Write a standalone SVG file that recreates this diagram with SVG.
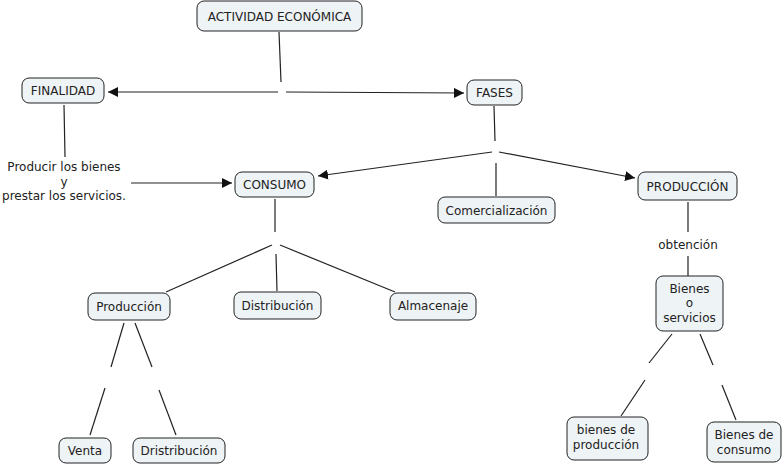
<svg xmlns="http://www.w3.org/2000/svg" width="784" height="466" viewBox="0 0 784 466">
<style>
.box{fill:#eef3f6;stroke:#222;stroke-width:1}
.t{font-family:"DejaVu Sans",Verdana,sans-serif;font-size:12px;fill:#222;text-anchor:middle}
.c{stroke:#222;stroke-width:1.2;fill:none}
</style>
<defs>
<marker id="ah" viewBox="0 0 10 10" refX="10" refY="5" markerWidth="10" markerHeight="10" markerUnits="userSpaceOnUse" orient="auto">
<path d="M0,0 L10,5 L0,10 z" fill="#111"/>
</marker>
</defs>
<rect width="784" height="466" fill="#fff"/>
<g id="connectors">
<line class="c" x1="279" y1="32" x2="281" y2="82"/>
<line class="c" x1="278" y1="92" x2="108" y2="92" marker-end="url(#ah)"/>
<line class="c" x1="286" y1="92" x2="464" y2="93" marker-end="url(#ah)"/>
<line class="c" x1="64" y1="105" x2="65" y2="157"/>
<line class="c" x1="131" y1="183" x2="232" y2="183" marker-end="url(#ah)"/>
<line class="c" x1="494" y1="106" x2="495" y2="141"/>
<line class="c" x1="492" y1="152" x2="318" y2="176" marker-end="url(#ah)"/>
<line class="c" x1="499" y1="152" x2="635" y2="178" marker-end="url(#ah)"/>
<line class="c" x1="496" y1="163" x2="496" y2="196"/>
<line class="c" x1="275" y1="199" x2="275" y2="232"/>
<line class="c" x1="272" y1="245" x2="166" y2="292"/>
<line class="c" x1="276" y1="254" x2="277" y2="291"/>
<line class="c" x1="280" y1="245" x2="395" y2="292"/>
<line class="c" x1="124" y1="323" x2="111" y2="367"/>
<line class="c" x1="105" y1="388" x2="90" y2="435"/>
<line class="c" x1="135" y1="323" x2="152" y2="367"/>
<line class="c" x1="159" y1="390" x2="176" y2="435"/>
<line class="c" x1="688" y1="202" x2="688" y2="232"/>
<line class="c" x1="688" y1="256" x2="688" y2="276"/>
<line class="c" x1="672" y1="334" x2="649" y2="363"/>
<line class="c" x1="645" y1="380" x2="621" y2="416"/>
<line class="c" x1="700" y1="334" x2="713" y2="365"/>
<line class="c" x1="722" y1="385" x2="736" y2="420"/>
</g>
<g id="actividad"><rect class="box" x="197" y="1" width="165" height="30" rx="7"/><text class="t" x="279.5" y="21">ACTIVIDAD ECONÓMICA</text></g>
<g id="finalidad"><rect class="box" x="22" y="78" width="82" height="25" rx="7"/><text class="t" x="63" y="95">FINALIDAD</text></g>
<g id="fases"><rect class="box" x="467" y="80" width="55" height="25" rx="7"/><text class="t" x="494.5" y="97">FASES</text></g>
<g id="producir"><text class="t" x="64" y="171">Producir los bienes</text><text class="t" x="64" y="186">y</text><text class="t" x="64" y="200">prestar los servicios.</text></g>
<g id="consumo"><rect class="box" x="235" y="172" width="79" height="25" rx="7"/><text class="t" x="274.5" y="189">CONSUMO</text></g>
<g id="comercializacion"><rect class="box" x="438" y="197" width="117" height="26" rx="7"/><text class="t" x="496.5" y="215">Comercialización</text></g>
<g id="produccion-main"><rect class="box" x="638" y="172" width="99" height="28" rx="7"/><text class="t" x="687.5" y="191">PRODUCCIÓN</text></g>
<g id="obtencion"><text class="t" x="688" y="249">obtención</text></g>
<g id="produccion"><rect class="box" x="88" y="293" width="82" height="27" rx="7"/><text class="t" x="129" y="311">Producción</text></g>
<g id="distribucion"><rect class="box" x="234" y="292" width="87" height="27" rx="7"/><text class="t" x="277.5" y="310">Distribución</text></g>
<g id="almacenaje"><rect class="box" x="390" y="293" width="86" height="27" rx="7"/><text class="t" x="433" y="310">Almacenaje</text></g>
<g id="bienes-servicios"><rect class="box" x="656" y="276" width="67" height="55" rx="7"/><text class="t" x="689.5" y="293">Bienes</text><text class="t" x="689.5" y="307">o</text><text class="t" x="689.5" y="322">servicios</text></g>
<g id="venta"><rect class="box" x="59" y="438" width="52" height="25" rx="7"/><text class="t" x="85" y="455">Venta</text></g>
<g id="dristribucion"><rect class="box" x="133" y="438" width="92" height="25" rx="7"/><text class="t" x="179" y="455">Dristribución</text></g>
<g id="bienes-produccion"><rect class="box" x="567" y="417" width="81" height="43" rx="7"/><text class="t" x="606" y="434">bienes de</text><text class="t" x="606" y="449">producción</text></g>
<g id="bienes-consumo"><rect class="box" x="707" y="422" width="74" height="40" rx="7"/><text class="t" x="744" y="439">Bienes de</text><text class="t" x="744" y="454">consumo</text></g>
</svg>
